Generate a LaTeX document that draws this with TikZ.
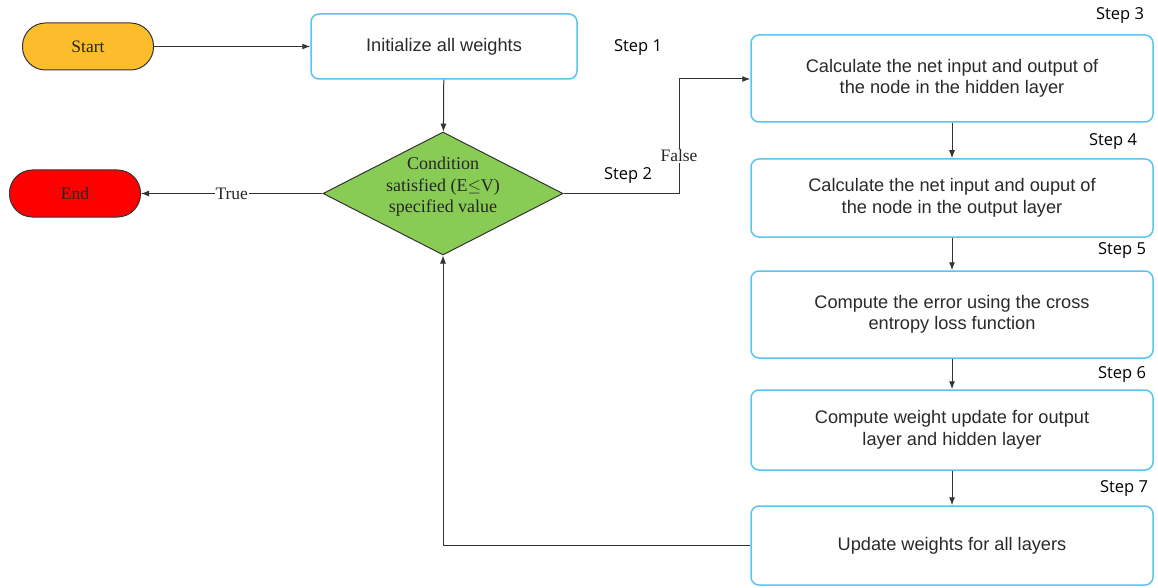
\documentclass[tikz,border=0pt]{standalone}
\usepackage{fontspec}
\setmainfont{Liberation Serif}
\newfontfamily\boxfont{Liberation Sans}
\newfontfamily\stepfont{Open Sans}
\usetikzlibrary{shapes.geometric,arrows.meta}
\definecolor{boxblue}{HTML}{5BC3F0}
\definecolor{lnk}{HTML}{333333}
\definecolor{startc}{HTML}{FCBD2C}
\definecolor{endc}{HTML}{FF0000}
\definecolor{decc}{HTML}{88CC55}
\definecolor{txt}{HTML}{2A2A2A}
\tikzset{
  x=1pt,y=-1pt,
  stepbox/.style={draw=boxblue,line width=1.5pt,rounded corners=8pt,fill=white,
    minimum width=402pt,align=center,text=txt,font=\boxfont\fontsize{18.2}{21.5}\selectfont},
  term/.style={draw=lnk,line width=1pt,rounded corners=23pt,minimum width=131pt,minimum height=47pt,
    font=\fontsize{17.5}{20}\selectfont,text=black!85},
  steplbl/.style={font=\stepfont\fontsize{16.5}{19}\selectfont,text=black},
  conn/.style={draw=lnk,line width=1pt,-{Latex[length=8pt,width=6pt]}},
  lbl/.style={fill=white,inner sep=1pt,font=\fontsize{17.5}{20}\selectfont,text=black!85}
}
\begin{document}
\begin{tikzpicture}
\useasboundingbox (0,0) rectangle (1158,588);
\node[term,fill=startc] (start) at (88,46.5) {Start};
\node[term,fill=endc] (end) at (75,193.5) {End};
\node[stepbox,minimum width=266pt,minimum height=65pt] (init) at (444,46.5) {Initialize all weights};
\node[diamond,draw=lnk,line width=1pt,fill=decc,minimum width=240pt,minimum height=123pt,inner sep=0pt] (cond) at (443,193.5) {};
\node[align=center,font=\fontsize{18}{21.5}\selectfont,text=black!85,inner sep=0pt] (condtxt) at (443,187)
  {Condition\\satisfied (E$\leq$V)\\specified value};
\node[stepbox,minimum height=87pt] (s3) at (952,78.5) {Calculate the net input and output of\\the node in the hidden layer};
\node[stepbox,minimum height=78pt] (s4) at (952,198) {Calculate the net input and ouput of\\the node in the output layer};
\node[stepbox,minimum height=87pt] (s5) at (952,314.5) {Compute the error using the cross\\entropy loss function};
\node[stepbox,minimum height=80pt] (s6) at (952,430) {Compute weight update for output\\layer and hidden layer};
\node[stepbox,minimum height=79pt] (s7) at (952,545.5) {Update weights for all layers};
\node[steplbl] (l1) at (638,48) {Step 1};
\node[steplbl] (l2) at (628,176) {Step 2};
\node[steplbl] (l3) at (1120,16) {Step 3};
\node[steplbl] (l4) at (1113,142) {Step 4};
\node[steplbl] (l5) at (1122,251) {Step 5};
\node[steplbl] (l6) at (1122,375) {Step 6};
\node[steplbl] (l7) at (1124,489) {Step 7};
\coordinate (fa) at (679,193.5);
\coordinate (fb) at (679,79);
\coordinate (fbk) at (443,545.5);
\draw[conn] (start) -- (init);
\draw[conn] (init) -- (cond);
\draw[conn] (cond) -- node[lbl,pos=0.5] (tl) {True} (end);
\draw[conn] (cond.east) -- (fa) -- node[lbl,pos=0.33] (fl) {False} (fb) -- (s3.west |- fb);
\draw[conn] (s3) -- (s4);
\draw[conn] (s4) -- (s5);
\draw[conn] (s5) -- (s6);
\draw[conn] (s6) -- (s7);
\draw[conn] (s7.west) -- (fbk) -- (cond.south);
\end{tikzpicture}
\end{document}
